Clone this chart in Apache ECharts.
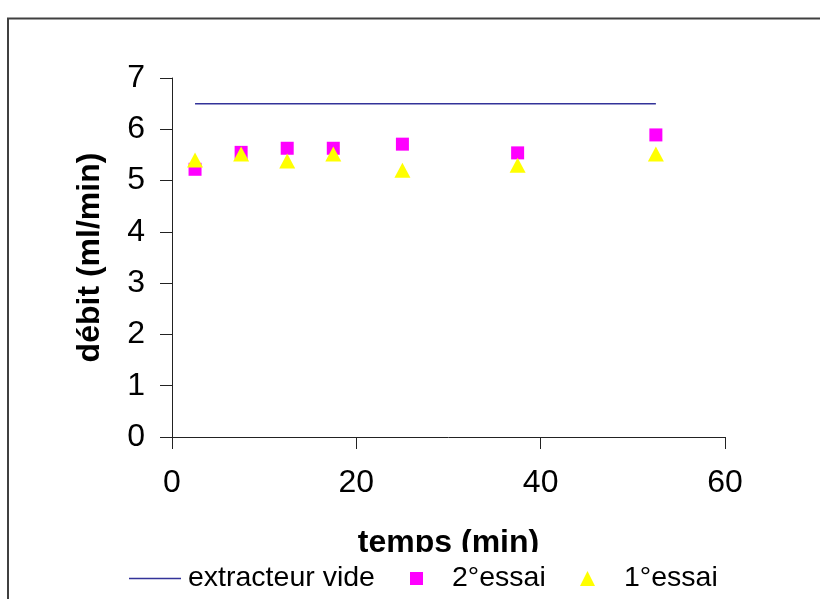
<!DOCTYPE html>
<html>
<head>
<meta charset="utf-8">
<script src="https://cdn.jsdelivr.net/npm/echarts@6/dist/echarts.min.js"></script>
<style>
  html, body { margin: 0; padding: 0; background: #fff; }
  #chart { width: 820px; height: 599px; }
</style>
</head>
<body>
<div id="chart"></div>
<script>
  // temps (min) et débits (ml/min)
  var temps = [2.5, 7.5, 12.5, 17.5, 25, 37.5, 52.5];
  var extracteurVide = [6.5, 6.5, 6.5, 6.5, 6.5, 6.5, 6.5];
  var essai2 = [5.22, 5.55, 5.63, 5.63, 5.71, 5.54, 5.89];
  var essai1 = [5.4, 5.52, 5.38, 5.52, 5.2, 5.3, 5.52];

  function pairs(xs, ys) {
    return xs.map(function (x, i) { return [x, ys[i]]; });
  }

  var font = 'Liberation Sans, Arial, sans-serif';
  var myChart = echarts.init(document.getElementById('chart'));

  var option = {
    animation: false,
    backgroundColor: '#fff',
    graphic: [
      // cadre extérieur
      { type: 'rect', z: 1, shape: { x: 8, y: 18.5, width: 840, height: 620 },
        style: { fill: 'none', stroke: '#404040', lineWidth: 2 } },
      // masque blanc qui coupe le titre de l'axe x
      { type: 'rect', z: 10, shape: { x: 10, y: 552, width: 820, height: 60 },
        style: { fill: '#fff' } }
    ],
    grid: { left: 172, top: 78, width: 553, height: 359, containLabel: false },
    xAxis: {
      type: 'value', min: 0, max: 60, interval: 20,
      name: 'temps (min)', nameLocation: 'middle', nameGap: 90,
      nameTextStyle: { fontFamily: font, fontSize: 32, fontWeight: 'bold', color: '#000' },
      axisLine: { lineStyle: { color: '#222', width: 1 } },
      axisTick: { length: 12, lineStyle: { color: '#222' } },
      axisLabel: { margin: 30, fontFamily: font, fontSize: 32, color: '#000' },
      splitLine: { show: false }
    },
    yAxis: {
      type: 'value', min: 0, max: 7, interval: 1,
      name: 'débit (ml/min)', nameLocation: 'middle', nameGap: 66, nameRotate: 90,
      nameTextStyle: { fontFamily: font, fontSize: 32, fontWeight: 'bold', color: '#000' },
      axisLine: { show: true, lineStyle: { color: '#222', width: 1 } },
      axisTick: { show: true, length: 12, lineStyle: { color: '#222' } },
      axisLabel: { margin: 27, fontFamily: font, fontSize: 32, color: '#000' },
      splitLine: { show: false }
    },
    legend: [
      { data: [{ name: 'extracteur vide', icon: 'rect' }], left: 129, top: 564, z: 20, padding: 0,
        itemWidth: 52, itemHeight: 1.5, itemGap: 0,
        textStyle: { fontFamily: font, fontSize: 28.5, color: '#000', padding: [0, 0, 0, 2] } },
      { data: [{ name: '2°essai', icon: 'rect' }], left: 410, top: 564, z: 20, padding: 0,
        itemWidth: 13, itemHeight: 13,
        textStyle: { fontFamily: font, fontSize: 28.5, color: '#000', padding: [0, 0, 0, 24] } },
      { data: [{ name: '1°essai', icon: 'triangle' }], left: 580, top: 564, z: 20, padding: 0,
        itemWidth: 15, itemHeight: 15,
        textStyle: { fontFamily: font, fontSize: 28.5, color: '#000', padding: [0, 0, 0, 24] } }
    ],
    series: [
      {
        name: 'extracteur vide', type: 'line',
        data: pairs(temps, extracteurVide),
        symbol: 'none',
        lineStyle: { color: '#333399', width: 1.5 },
        itemStyle: { color: '#333399' }
      },
      {
        name: '2°essai', type: 'scatter',
        data: pairs(temps, essai2),
        symbol: 'rect', symbolSize: 13,
        itemStyle: { color: '#ff00ff', opacity: 1 }
      },
      {
        name: '1°essai', type: 'scatter',
        data: pairs(temps, essai1),
        symbol: 'triangle', symbolSize: [16, 15],
        itemStyle: { color: '#ffff00', opacity: 1 }
      }
    ]
  };

  myChart.setOption(option);
</script>
</body>
</html>
